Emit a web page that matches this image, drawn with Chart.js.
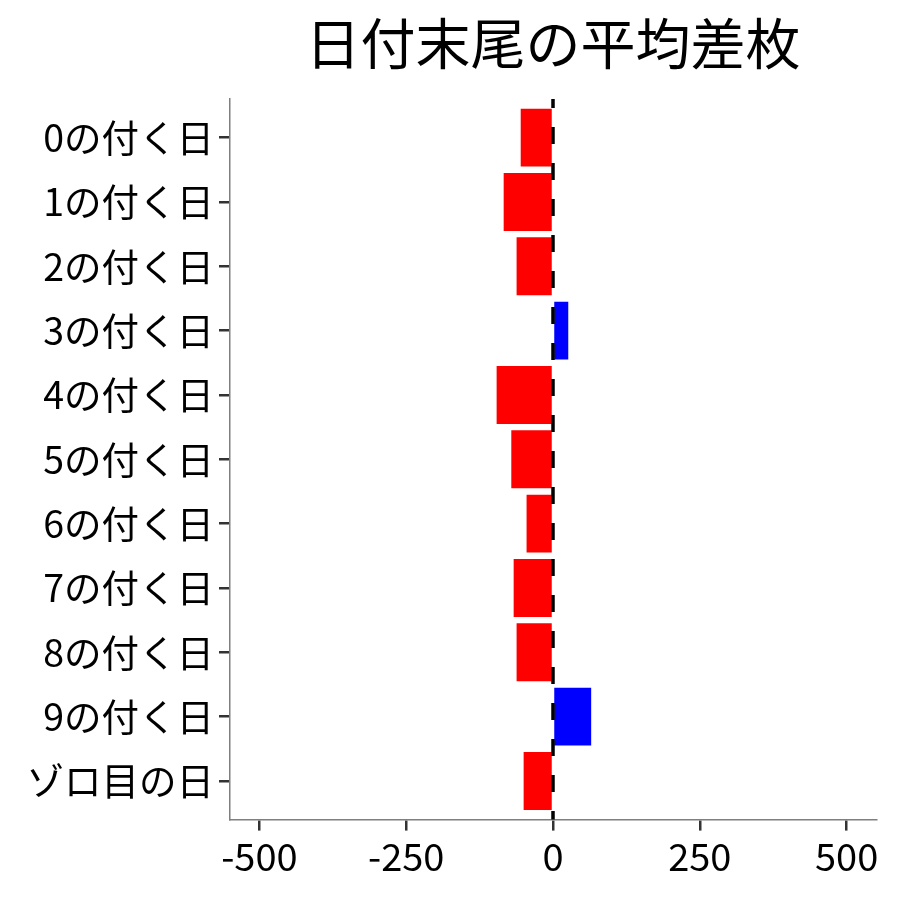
<!DOCTYPE html>
<html><head><meta charset="utf-8">
<script src="https://cdn.jsdelivr.net/npm/chart.js@4"></script>
<style>html,body{margin:0;padding:0;background:#fff}#wrap{width:900px;height:900px}</style>
</head><body><div id="wrap"><canvas id="c" width="900" height="900"></canvas></div>
<script>
const categories = ["0の付く日","1の付く日","2の付く日","3の付く日","4の付く日","5の付く日","6の付く日","7の付く日","8の付く日","9の付く日","ゾロ目の日"];
const avgDiff = [-55, -84, -62, 26, -96, -71, -45, -67, -62, 65, -50];
const xTicks = [-500, -250, 0, 250, 500];
const titleText = "日付末尾の平均差枚";

const FONT = "'Noto Sans CJK JP', 'Noto Sans', sans-serif";

const zeroLine = {
  id: 'zeroLine',
  afterDatasetsDraw(chart) {
    const {ctx, chartArea, scales} = chart;
    const x = scales.x.getPixelForValue(0);
    ctx.save();
    ctx.strokeStyle = '#000';
    ctx.lineWidth = 3.5;
    ctx.setLineDash([17, 19]);
    ctx.lineDashOffset = 8;
    ctx.beginPath();
    ctx.moveTo(x, chartArea.top);
    ctx.lineTo(x, chartArea.bottom);
    ctx.stroke();
    ctx.restore();
  }
};

new Chart(document.getElementById('c'), {
  type: 'bar',
  data: {
    datasets: [{
      data: avgDiff.map((v, i) => ({x: v, y: i})),
      backgroundColor: avgDiff.map(v => v >= 0 ? '#0000FF' : '#FF0000'),
      barPercentage: 0.9,
      categoryPercentage: 1.0,
      borderWidth: 0
    }]
  },
  options: {
    responsive: false,
    animation: false,
    indexAxis: 'y',
    devicePixelRatio: 1,
    layout: { padding: { left: 0, right: 24, top: 0, bottom: 0 } },
    plugins: {
      legend: { display: false },
      tooltip: { enabled: false },
      title: {
        display: true,
        text: titleText,
        fullSize: false,
        color: '#000',
        font: { family: FONT, size: 55, weight: 'normal', lineHeight: 1.2 },
        padding: { top: 10, bottom: 23 }
      }
    },
    scales: {
      x: {
        type: 'linear',
        min: -550, max: 550,
        offset: false,
        afterBuildTicks(s) { s.ticks = xTicks.map(v => ({value: v})); },
        afterFit(s) { s.height = 80.4; },
        grid: { offset: false, drawOnChartArea: false, drawTicks: true, tickLength: 11, color: '#333', lineWidth: 2.5 },
        border: { display: true, color: '#7f7f7f', width: 1.5 },
        ticks: { color: '#000', font: { family: FONT, size: 38 }, padding: 3, maxRotation: 0, autoSkip: false }
      },
      y: {
        type: 'linear',
        reverse: true,
        offset: false,
        min: -0.6, max: 10.6,
        afterBuildTicks(s) { s.ticks = categories.map((c, i) => ({value: i})); },
        afterFit(s) { s.width = 230; },
        grid: { offset: false, drawOnChartArea: false, drawTicks: true, tickLength: 11, color: '#333', lineWidth: 2.5 },
        border: { display: true, color: '#7f7f7f', width: 1.5 },
        ticks: {
          color: '#000', font: { family: FONT, size: 37.5 }, padding: 5, autoSkip: false,
          callback: (v) => categories[v]
        }
      }
    }
  },
  plugins: [zeroLine]
});
</script></body></html>
